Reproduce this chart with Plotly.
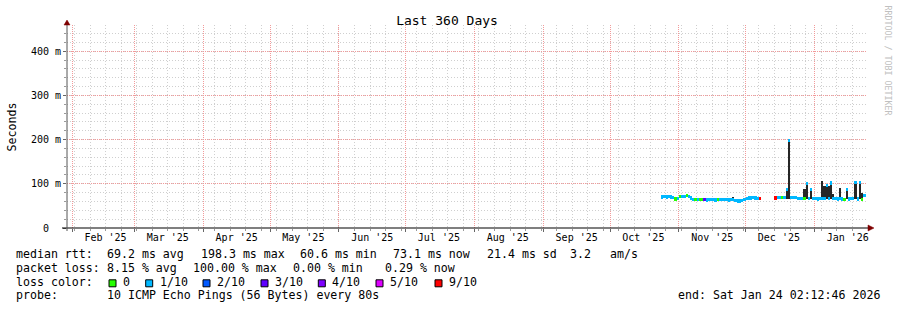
import pandas as pd
import plotly.graph_objects as go

# ---------------- data ----------------
range_start = "2025-01-29 15:30"
range_end = "2026-01-24 15:30"
y_top = 459.5

seg1_start = "2025-10-24"
seg1_median = [70.0, 70.5, 70.0, 70.5, 70.0, 68.5, 65.5, 66.0,
               70.5, 71.0, 70.5, 73.0, 71.5, 68.0, 64.5, 64.0, 64.0, 64.5, 64.0, 64.0,
               63.5, 64.0, 64.5, 64.0, 63.5, 64.0, 64.0, 64.5, 64.0, 64.0, 63.5, 64.0,
               64.5, 61.5, 61.0, 61.0, 62.0, 65.0,
               67.5, 68.0, 68.0, 69.0, 68.0, 67.5, 66.5]
seg1_loss = [1, 1, 1, 1, 1, 1, 0, 1,
             0, 1, 1, 0, 1, 1, 1, 0, 1, 0, 0, 3,
             1, 1, 1, 1, 1, 0, 1, 1, 1, 1, 1, 1,
             1, 1, 1, 1, 1, 1,
             1, 1, 1, 1, 1, 1, 9]

seg2_start = "2025-12-14"
seg2_median = [68.0, 68.5, 69.0, 68.5, 69.0, 88.0, 198.3, 69.0, 69.0, 68.5,
               67.0, 66.5, 66.0, 66.0, 101.0, 66.0, 88.0, 66.0,
               66.0, 65.5, 66.0, 66.0, 66.0, 97.0, 66.0, 102.0, 66.0, 66.0,
               65.5, 66.0, 65.5, 65.0, 88.0, 65.5, 66.0, 66.0, 103.0, 65.5,
               103.0, 65.0, 73.0]
seg2_loss = [9, 1, 1, 0, 1, 1, 1, 1, 1, 1,
             1, 1, 1, 0, 1, 1, 1, 1,
             1, 1, 1, 1, 1, 1, 1, 1, 1, 1,
             1, 1, 1, 0, 1, 1, 1, 1, 1, 1,
             1, 0, 1]

spike_dates = ["2025-10-31", "2025-11-25", "2025-12-19", "2025-12-20", "2025-12-27",
               "2025-12-28", "2025-12-30", "2026-01-04", "2026-01-05", "2026-01-06",
               "2026-01-07", "2026-01-08", "2026-01-09", "2026-01-12", "2026-01-15",
               "2026-01-19", "2026-01-21", "2026-01-22"]
spike_low = [64, 63, 66, 66, 65, 65, 65, 65, 65, 65, 65, 65, 65, 65, 65, 65, 65, 65]
spike_high = [71, 71, 90, 200, 88, 102, 90, 106, 94, 98, 94, 103, 76, 91, 89, 104, 104, 80]

loss_levels = [0, 1, 2, 3, 4, 5, 9]
loss_labels = ["0", "1/10", "2/10", "3/10", "4/10", "5/10", "9/10"]
loss_colors = ["#26ff00", "#00b8ff", "#0059ff", "#5e00ff", "#7e00ff", "#dd00ff", "#ff0000"]

rtt_label = "median rtt:"
rtt_stats = ["69.2 ms avg", "198.3 ms max", "60.6 ms min", "73.1 ms now", "21.4 ms sd", "3.2", "am/s"]
loss_label = "packet loss:"
loss_stats = ["8.15 % avg", "100.00 % max", "0.00 % min", "0.29 % now"]
probe_text = "10 ICMP Echo Pings (56 Bytes) every 80s"
end_text = "end: Sat Jan 24 02:12:46 2026"
title_text = "Last 360 Days"
y_title = "Seconds"
watermark = "RRDTOOL / TOBI OETIKER"

month_starts = pd.date_range("2025-02-01", "2026-01-01", freq="MS")
month_labels = [d.strftime("%b '%y") for d in month_starts]
week_lines = pd.date_range("2025-02-02", "2026-01-24", freq="7D")
ytick_vals = [0, 100, 200, 300, 400]
ytick_text = ["0\u00a0\u00a0", "100 m", "200 m", "300 m", "400 m"]

# ---------------- layout geometry ----------------
W, H = 897, 310
L, R, T, B = 67, 867, 25, 228
MONO = "DejaVu Sans Mono"
MAJOR = "#f29a9a"
MINOR = "#cfcfcf"


def px(x):
    return (x - L) / (R - L)


def py(y):
    return (B - y) / (B - T)


def nb(s):
    return s.replace(" ", "\u00a0")


DAY_MS = 86400000
band = 3.2 * y_top / (B - T)
color_of = dict(zip(loss_levels, loss_colors))

days = list(pd.date_range(seg1_start, periods=len(seg1_median), freq="D")) + \
    list(pd.date_range(seg2_start, periods=len(seg2_median), freq="D"))
med = seg1_median + seg2_median
loss = seg1_loss + seg2_loss

fig = go.Figure()

# smoke
fig.add_trace(go.Bar(
    x=pd.to_datetime(spike_dates), y=[h - l for h, l in zip(spike_high, spike_low)],
    base=spike_low, width=DAY_MS, offset=0,
    marker=dict(color="#262626", line_width=0), hoverinfo="skip", showlegend=False))

# median band coloured by loss
fig.add_trace(go.Bar(
    x=days, y=[band] * len(med), base=[m - band / 2 for m in med],
    width=DAY_MS, offset=0,
    marker=dict(color=[color_of[l] for l in loss], line_width=0),
    hoverinfo="skip", showlegend=False))

# dummy trace for the overlay axis carrying month labels
fig.add_trace(go.Scatter(x=[range_start, range_end], y=[None, None], xaxis="x2",
                         mode="lines", hoverinfo="skip", showlegend=False))

fig.update_layout(
    width=W, height=H,
    margin=dict(l=L, r=W - R, t=T, b=H - B, pad=0),
    paper_bgcolor="white", plot_bgcolor="white",
    barmode="overlay", bargap=0,
    showlegend=False,
    font=dict(family=MONO, size=10, color="#000"),
    title=dict(text=title_text, x=447 / W, xref="container", xanchor="center",
               y=1 - 20 / H, yref="container", yanchor="middle",
               font=dict(family=MONO, size=13, color="#000")),
    xaxis=dict(
        type="date", range=[range_start, range_end], autorange=False,
        tickmode="array", tickvals=list(month_starts), showticklabels=False,
        showgrid=True, gridcolor=MAJOR, griddash="1px,1px", gridwidth=1,
        ticks="outside", ticklen=3, tickcolor="#666",
        zeroline=False, showline=False, layer="below traces",
        minor=dict(tickmode="array", tickvals=list(week_lines), showgrid=True,
                   gridcolor=MINOR, griddash="1px,2px", gridwidth=1,
                   ticks="outside", ticklen=2, tickcolor="#999"),
    ),
    xaxis2=dict(
        type="date", overlaying="x", anchor="y", side="bottom",
        range=[range_start, range_end], autorange=False,
        tickmode="array", tickvals=[d + pd.Timedelta(days=15) for d in month_starts],
        ticktext=month_labels, showgrid=False, ticks="", zeroline=False, showline=False,
        ticklabelstandoff=2,
        tickfont=dict(family=MONO, size=10, color="#000"),
    ),
    yaxis=dict(
        range=[0, y_top], autorange=False,
        tickmode="array", tickvals=ytick_vals, ticktext=ytick_text,
        showgrid=True, gridcolor=MAJOR, griddash="1px,1px", gridwidth=1,
        ticks="outside", ticklen=3, tickcolor="#666",
        tickfont=dict(family=MONO, size=10, color="#000"),
        zeroline=False, showline=False,
        minor=dict(dtick=20, showgrid=True, gridcolor=MINOR,
                   griddash="1px,2px", gridwidth=1, ticks="outside", ticklen=2,
                   tickcolor="#999"),
    ),
)

shapes = []
# axis lines
shapes.append(dict(type="line", xref="paper", yref="paper", x0=px(62), x1=px(870),
                   y0=0, y1=0, line=dict(color="#000", width=1.2)))
shapes.append(dict(type="line", xref="paper", yref="paper", x0=0, x1=0,
                   y0=py(231), y1=py(23), line=dict(color="#555", width=1)))
# arrows
shapes.append(dict(type="path", xref="paper", yref="paper", xsizemode="pixel",
                   ysizemode="pixel", xanchor=px(868), yanchor=0,
                   path="M 0,-3 L 6,0 L 0,3 Z", fillcolor="#7f0000",
                   line=dict(color="#7f0000", width=0.5)))
shapes.append(dict(type="path", xref="paper", yref="paper", xsizemode="pixel",
                   ysizemode="pixel", xanchor=0, yanchor=py(25),
                   path="M -3,0 L 3,0 L 0,5 Z", fillcolor="#7f0000",
                   line=dict(color="#7f0000", width=0.5)))

ann = []


def text(s, x, y, anchor="left", size=11.6, color="#000", angle=0, yanchor="middle"):
    ann.append(dict(text=nb(s), x=px(x), y=py(y), xref="paper", yref="paper",
                    xanchor=anchor, yanchor=yanchor, showarrow=False, textangle=angle,
                    borderpad=0, borderwidth=0,
                    font=dict(family=MONO, size=size, color=color)))


# legend line 1
y1, y2, y3, y4 = 254.3, 267.7, 281.7, 295.3
text(rtt_label, 16, y1)
for s, x in zip(rtt_stats, [107, 201, 300, 393, 487, 570, 610]):
    text(s, x, y1)
# legend line 2
text(loss_label, 16, y2)
for s, x in zip(loss_stats, [107, 193, 292.7, 385]):
    text(s, x, y2)
# legend line 3
text("loss color:", 16, y3)
box_x = [108.5, 145.2, 202.5, 260.5, 317.8, 375.5, 434.5]
for bx, lab, col in zip(box_x, loss_labels, loss_colors):
    shapes.append(dict(type="rect", xref="paper", yref="paper",
                       x0=px(bx + 0.5), x1=px(bx + 7.5), y0=py(286.8), y1=py(279.8),
                       fillcolor=col, line=dict(color="#000", width=1)))
    text(lab, bx + 14.3, y3)
# legend line 4
text("probe:", 16, y4)
text(probe_text, 107, y4)
text(end_text, 879.5, y4, anchor="right")

# axis title and watermark
text(y_title, 11, 126.5, anchor="center", angle=-90)
text(watermark, 887.5, 60, anchor="center", size=8.3, color="#c0c0c0", angle=90)

fig.update_layout(shapes=shapes, annotations=ann)
fig.write_html("out.html")
